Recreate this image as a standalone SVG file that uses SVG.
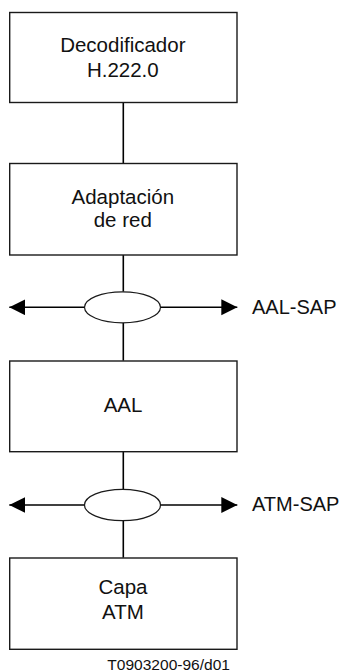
<svg xmlns="http://www.w3.org/2000/svg" width="345" height="672" viewBox="0 0 345 672">
<style>
.box{fill:#fff;stroke:#1a1a1a;stroke-width:1.4}
.ell{fill:#fff;stroke:#1a1a1a;stroke-width:1.2}
.ln{stroke:#000;stroke-width:1.6;fill:none}
.lbl{font-family:"Liberation Sans",Arial,sans-serif;font-size:20.5px;fill:#111;text-anchor:middle}
.side{font-family:"Liberation Sans",Arial,sans-serif;font-size:20px;fill:#111}
.foot{font-family:"Liberation Sans",Arial,sans-serif;font-size:14px;fill:#111}
</style>
<defs>
<marker id="ah" markerUnits="userSpaceOnUse" markerWidth="17" markerHeight="17" refX="16" refY="8" orient="auto">
<path d="M0,0 L16,8 L0,16 Z" fill="#000"/>
</marker>
</defs>
<g id="connectors">
<line class="ln" x1="123.3" y1="102.7" x2="123.3" y2="163.3"/>
<line class="ln" x1="123.3" y1="255" x2="123.3" y2="291.8"/>
<line class="ln" x1="123.3" y1="322.8" x2="123.3" y2="360.7"/>
<line class="ln" x1="123.3" y1="451.7" x2="123.3" y2="489.3"/>
<line class="ln" x1="123.3" y1="520.7" x2="123.3" y2="557.7"/>
<line class="ln" x1="84.5" y1="307.3" x2="9.3" y2="307.3" marker-end="url(#ah)"/>
<line class="ln" x1="160.5" y1="307.3" x2="237.3" y2="307.3" marker-end="url(#ah)"/>
<line class="ln" x1="84.5" y1="505" x2="9.3" y2="505" marker-end="url(#ah)"/>
<line class="ln" x1="160.5" y1="505" x2="237.3" y2="505" marker-end="url(#ah)"/>
</g>
<g id="decodificador">
<rect class="box" x="9.7" y="12.5" width="227.3" height="90"/>
<text class="lbl" x="122.8" y="52.3">Decodificador</text>
<text class="lbl" x="122.8" y="76.7">H.222.0</text>
</g>
<g id="adaptacion">
<rect class="box" x="9.7" y="163.5" width="227.3" height="91.5"/>
<text class="lbl" x="122.8" y="204">Adaptación</text>
<text class="lbl" x="122.8" y="227">de red</text>
</g>
<g id="aal-sap">
<ellipse class="ell" cx="122.5" cy="307.3" rx="38" ry="15.5"/>
<text class="side" x="252" y="313.5">AAL-SAP</text>
</g>
<g id="aal">
<rect class="box" x="9.7" y="361" width="227.3" height="90.7"/>
<text class="lbl" x="123" y="411.5">AAL</text>
</g>
<g id="atm-sap">
<ellipse class="ell" cx="122.5" cy="505" rx="38" ry="15.7"/>
<text class="side" x="252" y="511">ATM-SAP</text>
</g>
<g id="capa-atm">
<rect class="box" x="9.7" y="558" width="227.3" height="91.3"/>
<text class="lbl" x="123" y="594">Capa</text>
<text class="lbl" x="123" y="618.5">ATM</text>
</g>
<text class="foot" x="107.3" y="669.5" textLength="122.7" lengthAdjust="spacingAndGlyphs">T0903200-96/d01</text>
</svg>
